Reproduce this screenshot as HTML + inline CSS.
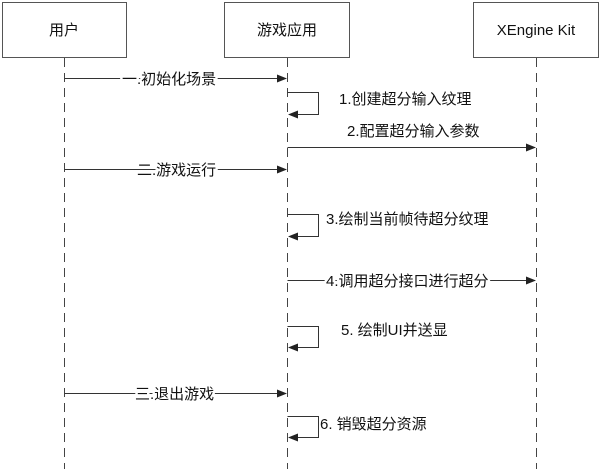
<!DOCTYPE html>
<html><head><meta charset="utf-8"><style>
html,body{margin:0;padding:0;background:#fff;}
svg{display:block;}
text{font-family:"Liberation Sans","Noto Sans CJK SC",sans-serif;font-size:15px;fill:#111;}
.h{stroke:#fff;stroke-width:5px;paint-order:stroke;stroke-linejoin:round;}
</style></head><body>
<svg width="600" height="469" viewBox="0 0 600 469" xmlns="http://www.w3.org/2000/svg">
<defs>
<marker id="a" markerWidth="10" markerHeight="8" refX="9" refY="4" orient="auto" markerUnits="userSpaceOnUse">
<path d="M0,0 L10,4 L0,8 Z" fill="#222"/>
</marker>
</defs>
<g fill="#fff" stroke="#555" stroke-width="1">
<rect x="2.5" y="2.5" width="124" height="55"/>
<rect x="224.5" y="2.5" width="125" height="55"/>
<rect x="473.5" y="2.5" width="125" height="55"/>
</g>
<text x="64" y="35" text-anchor="middle">用户</text>
<text x="287" y="35" text-anchor="middle">游戏应用</text>
<text x="536" y="35" text-anchor="middle">XEngine Kit</text>
<g stroke="#444" stroke-width="1" stroke-dasharray="9,6">
<line x1="64.5" y1="58" x2="64.5" y2="469"/>
<line x1="287.5" y1="58" x2="287.5" y2="469"/>
<line x1="536.5" y1="58" x2="536.5" y2="469"/>
</g>
<g stroke="#333" stroke-width="1" fill="none">
<line x1="64.5" y1="78.5" x2="286" y2="78.5" marker-end="url(#a)"/>
<polyline points="287.5,92.5 318.5,92.5 318.5,114.5 289,114.5" marker-end="url(#a)"/>
<line x1="287.5" y1="147.5" x2="535" y2="147.5" marker-end="url(#a)"/>
<line x1="64.5" y1="169.5" x2="286" y2="169.5" marker-end="url(#a)"/>
<polyline points="287.5,214.5 318.5,214.5 318.5,236.5 289,236.5" marker-end="url(#a)"/>
<line x1="287.5" y1="280.5" x2="535" y2="280.5" marker-end="url(#a)"/>
<polyline points="287.5,326.5 318.5,326.5 318.5,347.5 289,347.5" marker-end="url(#a)"/>
<line x1="64.5" y1="393.5" x2="286" y2="393.5" marker-end="url(#a)"/>
<polyline points="287.5,416.5 318.5,416.5 318.5,437.5 289,437.5" marker-end="url(#a)"/>
</g>
<text class="h" x="122" y="84">一.初始化场景</text>
<text x="339" y="104">1.创建超分输入纹理</text>
<text x="347" y="136">2.配置超分输入参数</text>
<text class="h" x="137" y="175">二.游戏运行</text>
<text x="326" y="224">3.绘制当前帧待超分纹理</text>
<text class="h" x="326" y="286">4.调用超分接口进行超分</text>
<text x="341" y="335">5. 绘制UI并送显</text>
<text class="h" x="135" y="399">三.退出游戏</text>
<text x="320" y="429">6. 销毁超分资源</text>
</svg>
</body></html>
